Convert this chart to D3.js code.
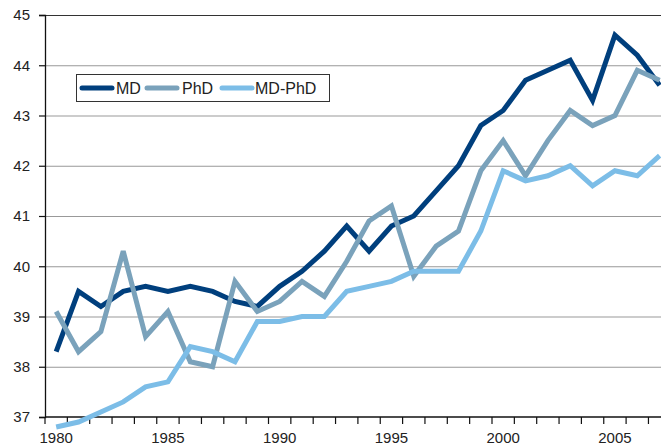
<!DOCTYPE html>
<html><head><meta charset="utf-8">
<script src="https://cdn.jsdelivr.net/npm/d3@7"></script>
<style>body{margin:0;background:#fff;overflow:hidden}svg{display:block}text{font-family:"Liberation Sans",Arial,sans-serif;fill:#222}</style>
</head><body>
<svg id="c" width="661" height="445"></svg>
<script>
const years = d3.range(1980, 2008);
const xTickLabels = [1980, 1985, 1990, 1995, 2000, 2005];
const yTicks = [37, 38, 39, 40, 41, 42, 43, 44, 45];
const seriesNames = ["MD", "PhD", "MD-PhD"];
const md =    [38.3,39.5,39.2,39.5,39.6,39.5,39.6,39.5,39.3,39.2,39.6,39.9,40.3,40.8,40.3,40.8,41.0,41.5,42.0,42.8,43.1,43.7,43.9,44.1,43.3,44.6,44.2,43.6];
const phd =   [39.1,38.3,38.7,40.3,38.6,39.1,38.1,38.0,39.7,39.1,39.3,39.7,39.4,40.1,40.9,41.2,39.8,40.4,40.7,41.9,42.5,41.8,42.5,43.1,42.8,43.0,43.9,43.7];
const mdphd = [36.8,36.9,37.1,37.3,37.6,37.7,38.4,38.3,38.1,38.9,38.9,39.0,39.0,39.5,39.6,39.7,39.9,39.9,39.9,40.7,41.9,41.7,41.8,42.0,41.6,41.9,41.8,42.2];
const colors = ["#003f7d", "#7aa2bb", "#7cbde7"];

(function () {
const svg = d3.select("#c");
const mLeft = 45, mTop = 15, mBottom = 417, step = 22.35;
const x = d3.scaleBand().domain(years).range([mLeft, mLeft + years.length * step]);
const y = d3.scaleLinear().domain([37, 45]).range([mBottom, mTop]);

// gridlines
svg.append("g").selectAll("line").data(yTicks.filter(t => t > 37)).join("line")
  .attr("x1", mLeft).attr("x2", 661)
  .attr("y1", d => y(d) + 0.5).attr("y2", d => y(d) + 0.5)
  .attr("stroke", d => d === 45 ? "#333" : "#999").attr("stroke-width", 1.2);

// y axis
const ya = svg.append("g").attr("transform", `translate(${mLeft},0)`)
  .call(d3.axisLeft(y).tickValues(yTicks).tickSize(6).tickPadding(9).tickFormat(d3.format("d")));
ya.select(".domain").attr("stroke", "#111").attr("stroke-width", 1.3);
ya.selectAll(".tick line").attr("stroke", "#111").attr("stroke-width", 1.2);
ya.selectAll("text").style("font-size", "15px").attr("fill", "#222");

// x axis
const xa = svg.append("g").attr("transform", `translate(0,${mBottom})`);
xa.append("line").attr("x1", mLeft).attr("x2", 661).attr("stroke", "#111").attr("stroke-width", 1.3);
xa.selectAll("line.tk").data(d3.range(0, years.length + 1)).join("line").attr("class", "tk")
  .attr("x1", i => x.range()[0] + i * x.step()).attr("x2", i => x.range()[0] + i * x.step())
  .attr("y1", 0).attr("y2", 7).attr("stroke", "#111").attr("stroke-width", 1.2);
xa.selectAll("text").data(xTickLabels).join("text")
  .attr("x", d => x(d) + x.bandwidth() / 2).attr("y", 26)
  .attr("text-anchor", "middle").style("font-size", "15px").text(d => d);

// lines
const line = d3.line().x((d, i) => x(years[i]) + x.bandwidth() / 2).y(d => y(d));
[md, phd, mdphd].forEach((s, k) => {
  svg.append("path").datum(s).attr("d", line).attr("fill", "none")
    .attr("stroke", colors[k]).attr("stroke-width", 5).attr("stroke-linejoin", "miter").attr("stroke-miterlimit", 3);
});

// legend
const lg = svg.append("g");
lg.append("rect").attr("x", 76.5).attr("y", 74.5).attr("width", 253).attr("height", 27)
  .attr("fill", "#fff").attr("stroke", "#333").attr("stroke-width", 1);
const lx = [82, 147, 222], tx = [116, 182, 255];
seriesNames.forEach((n, k) => {
  lg.append("line").attr("x1", lx[k]).attr("x2", lx[k] + 30).attr("y1", 88).attr("y2", 88)
    .attr("stroke", colors[k]).attr("stroke-width", 5).attr("stroke-linecap", "round");
  lg.append("text").attr("x", tx[k]).attr("y", 94).style("font-size", "16px").text(n);
});
})();
</script>
</body></html>
